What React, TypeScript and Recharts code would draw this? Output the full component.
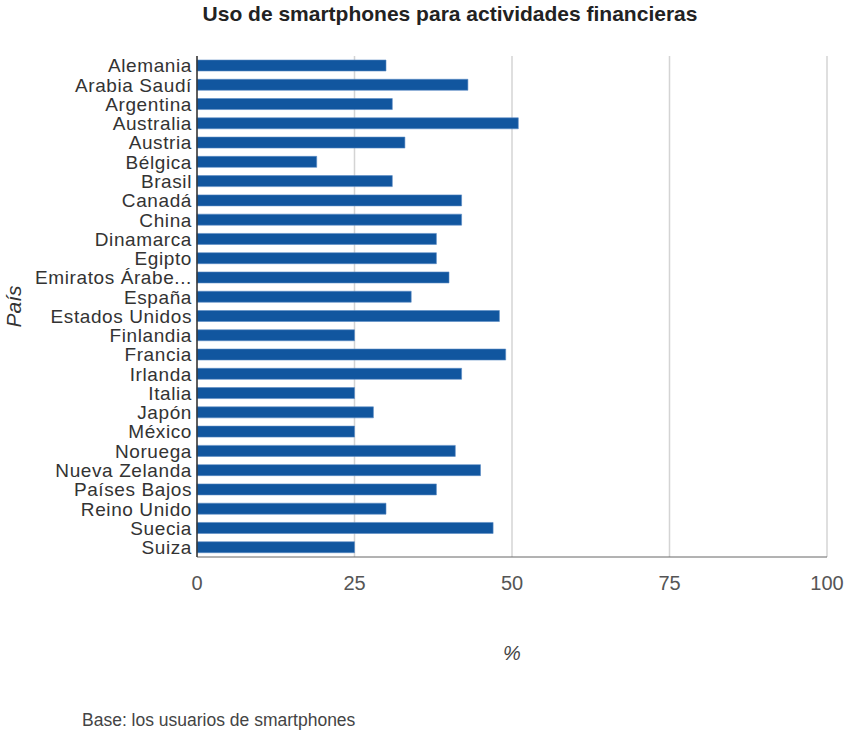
import React from 'react';
import { BarChart, Bar, XAxis, YAxis, CartesianGrid } from 'recharts';

const countries = [
  'Alemania', 'Arabia Saudí', 'Argentina', 'Australia', 'Austria', 'Bélgica', 'Brasil',
  'Canadá', 'China', 'Dinamarca', 'Egipto', 'Emiratos Árabes Unidos', 'España',
  'Estados Unidos', 'Finlandia', 'Francia', 'Irlanda', 'Italia', 'Japón', 'México',
  'Noruega', 'Nueva Zelanda', 'Países Bajos', 'Reino Unido', 'Suecia', 'Suiza',
];
const usage = [30, 43, 31, 51, 33, 19, 31, 42, 42, 38, 38, 40, 34, 48, 25, 49, 42, 25, 28, 25, 41, 45, 38, 30, 47, 25];
const xTicks = [0, 25, 50, 75, 100];

const data = countries.map((pais, i) => ({ pais, valor: usage[i] }));

const font = 'Arial, "Liberation Sans", sans-serif';

const shorten = (s: string) => (s.length > 15 ? s.slice(0, 14) + '...' : s);

export default function App() {
  return (
    <div style={{ position: 'absolute', left: 0, top: 0, width: 844, height: 734, fontFamily: font }}>
      <div
        style={{
          position: 'absolute', top: 0, left: 450, transform: 'translateX(-50%)',
          lineHeight: '28px', fontSize: 21, fontWeight: 'bold', color: '#222', whiteSpace: 'nowrap',
        }}
      >
        Uso de smartphones para actividades financieras
      </div>
      <BarChart
        width={844}
        height={734}
        data={data}
        layout="vertical"
        margin={{ top: 56, right: 17, bottom: 67, left: 0 }}
        barCategoryGap={4}
      >
        <CartesianGrid horizontal={false} vertical stroke="#d4d4d4" strokeWidth={1.5} />
        <XAxis
          type="number"
          domain={[0, 100]}
          ticks={xTicks}
          height={110}
          tickLine={false}
          tickMargin={13}
          axisLine={{ stroke: '#666' }}
          tick={{ fill: '#555', fontSize: 20, fontFamily: font }}
          label={{ value: '%', position: 'insideTop', offset: 89, fill: '#444', fontSize: 20, fontStyle: 'italic', fontFamily: font }}
        />
        <YAxis
          type="category"
          dataKey="pais"
          width={197}
          interval={0}
          tickLine={false}
          tickSize={0}
          tickMargin={5}
          tickFormatter={shorten}
          axisLine={{ stroke: '#333', strokeWidth: 1.5 }}
          tick={{ fill: '#333', fontSize: 19, letterSpacing: 0.6, fontFamily: font }}
          label={{ value: 'País', angle: -90, position: 'insideLeft', offset: 14, fill: '#333', fontSize: 21, fontStyle: 'italic', fontFamily: font, style: { textAnchor: 'middle' } }}
        />
        <Bar dataKey="valor" fill="#11569f" stroke="#5a8cc4" strokeWidth={0.6} barSize={11} isAnimationActive={false} />
      </BarChart>
      <div
        style={{
          position: 'absolute', left: 82, top: 710, lineHeight: '20px', fontSize: 17.5, color: '#444', whiteSpace: 'nowrap',
        }}
      >
        Base: los usuarios de smartphones
      </div>
    </div>
  );
}
